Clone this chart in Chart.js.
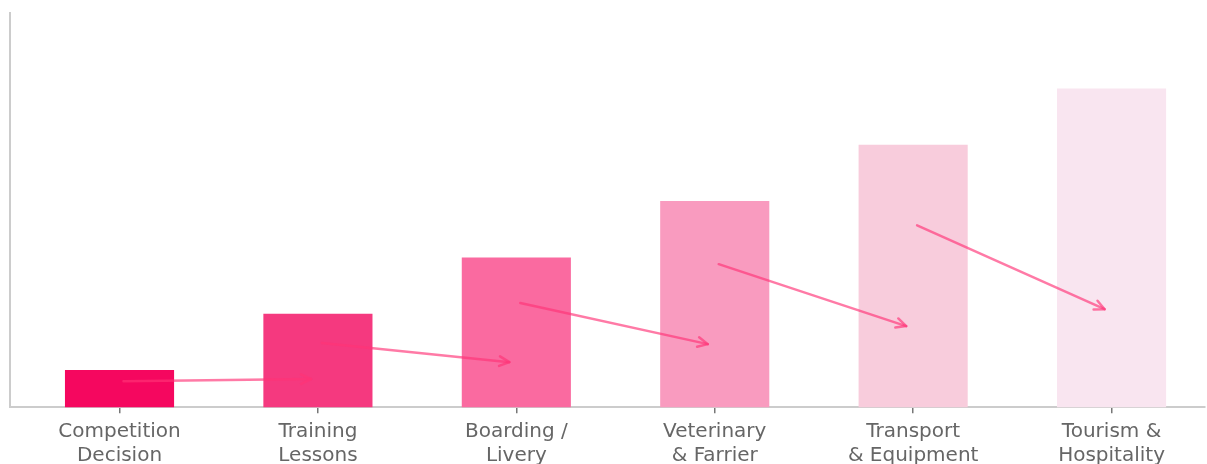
<!DOCTYPE html>
<html>
<head>
<meta charset="utf-8">
<script src="https://cdn.jsdelivr.net/npm/chart.js@4/dist/chart.umd.min.js"></script>
<style>
  html, body { margin: 0; padding: 0; background: #ffffff; }
  #wrap { width: 1207px; height: 464px; }
</style>
</head>
<body>
<div id="wrap"><canvas id="stage-chart"></canvas></div>
<script>
/*global Chart*/

// categories along the bottom (two-line labels)
const stages = [
  ["Competition", "Decision"],
  ["Training", "Lessons"],
  ["Boarding /", "Livery"],
  ["Veterinary", "& Farrier"],
  ["Transport", "& Equipment"],
  ["Tourism &", "Hospitality"],
];

// bar heights (relative units, no value axis shown)
const stageValues = [1, 2, 3, 4, 5, 6];

const stageColors = ["#f5075f", "#f5397f", "#fa6aa0", "#f99bbf", "#f8ccdc", "#f9e5f0"];

// arrows from one bar to the next: start / end heights in the same units
const arrowFrom = [0.80, 1.48, 2.19, 2.88, 3.57];
const arrowTo = [0.84, 1.14, 1.46, 1.78, 2.08];

const arrowPlugin = {
  id: "stageArrows",
  afterDatasetsDraw(chart) {
    const ctx = chart.ctx;
    const x = chart.scales.x;
    const y = chart.scales.y;
    ctx.save();
    ctx.strokeStyle = "rgba(255, 51, 119, 0.65)";
    ctx.lineWidth = 2.5;
    ctx.lineCap = "round";
    ctx.lineJoin = "round";
    for (let i = 0; i < arrowFrom.length; i++) {
      const x0 = x.getPixelForValue(i + 0.02);
      const y0 = y.getPixelForValue(arrowFrom[i]);
      const x1 = x.getPixelForValue(i + 1 - 0.035);
      const y1 = y.getPixelForValue(arrowTo[i]);
      ctx.beginPath();
      ctx.moveTo(x0, y0);
      ctx.lineTo(x1, y1);
      ctx.stroke();
      // open arrow head
      const ang = Math.atan2(y1 - y0, x1 - x0);
      const len = 11;
      const spread = 0.45;
      ctx.beginPath();
      ctx.moveTo(x1 - len * Math.cos(ang - spread), y1 - len * Math.sin(ang - spread));
      ctx.lineTo(x1, y1);
      ctx.lineTo(x1 - len * Math.cos(ang + spread), y1 - len * Math.sin(ang + spread));
      ctx.stroke();
    }
    ctx.restore();
  },
};

// bars sit on a numeric x axis so the plot can keep the original's uneven side margins
const barPoints = stageValues.map((v, i) => ({ x: i, y: v }));

new Chart(document.getElementById("stage-chart").getContext("2d"), {
  type: "bar",
  plugins: [arrowPlugin],
  data: {
    datasets: [
      {
        data: barPoints,
        backgroundColor: stageColors,
        borderWidth: 0,
        barPercentage: 0.55,
        categoryPercentage: 1.0,
      },
    ],
  },
  options: {
    responsive: true,
    maintainAspectRatio: false,
    animation: false,
    layout: {
      padding: { left: 2, top: 13, right: 2, bottom: -10 },
    },
    scales: {
      x: {
        type: "linear",
        min: -0.552,
        max: 5.471,
        offset: false,
        grid: {
          display: true,
          offset: false,
          drawOnChartArea: false,
          drawTicks: true,
          tickLength: 6,
          color: "#777777",
          lineWidth: 1.5,
        },
        border: { display: true, color: "#cccccc", width: 2 },
        ticks: {
          stepSize: 1,
          includeBounds: false,
          color: "#666666",
          padding: 7,
          maxRotation: 0,
          autoSkip: false,
          font: { family: "DejaVu Sans", size: 20, lineHeight: 1.17 },
          callback: function(value) {
            return stages[value] || "";
          },
        },
      },
      y: {
        min: 0.34,
        max: 7.34,
        grid: { display: false },
        border: { display: true, color: "#cccccc", width: 2 },
        ticks: { display: false },
      },
    },
    plugins: {
      legend: { display: false },
      tooltip: { enabled: false },
    },
  },
});
</script>
</body>
</html>
